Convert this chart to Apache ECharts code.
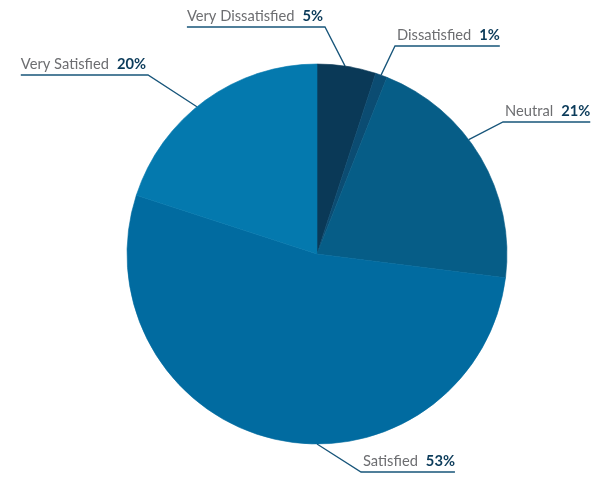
<!DOCTYPE html>
<html><head><meta charset="utf-8">
<script src="https://cdn.jsdelivr.net/npm/echarts@6/dist/echarts.min.js"></script>
<style>html,body{margin:0;padding:0;background:#fff}#c{width:611px;height:489px}</style>
</head><body><div id="c"></div>
<script>
const categories = ['Very Dissatisfied', 'Dissatisfied', 'Neutral', 'Satisfied', 'Very Satisfied'];
const values = [5, 1, 21, 53, 20];
const colors = ['#0a3957', '#0b4c72', '#065d87', '#016ba0', '#0479ae'];

// label layout: elbow of the leader line, which side text runs, and angle where leader meets the pie
const labelSpec = [
  { elbow: [325, 27], side: 'left', angle: 8.5 },
  { elbow: [395, 46], side: 'right', angle: 19.7 },
  { elbow: [503, 122], side: 'right', angle: 53 },
  { elbow: [361, 472], side: 'right', angle: 180 },
  { elbow: [148, 75], side: 'left', angle: 320.8 }
];
const CX = 317, CY = 254, R = 190;

const chart = echarts.init(document.getElementById('c'), null, { renderer: 'canvas' });
chart.setOption({
  animation: false,
  series: [{
    type: 'pie',
    center: [CX, CY],
    radius: R,
    startAngle: 90,
    clockwise: true,
    avoidLabelOverlap: false,
    data: categories.map((n, i) => ({ name: n, value: values[i], itemStyle: { color: colors[i], borderColor: colors[i], borderWidth: 0.6 } })),
    label: {
      show: true,
      position: 'outside',
      formatter: p => '{n|' + p.name + '}{v|' + p.value + '%}',
      rich: {
        n: { fontFamily: 'Lato', fontSize: 14.7, color: '#6d6e71', lineHeight: 16 },
        v: { fontFamily: 'Lato', fontSize: 14.7, fontWeight: 'bold', color: '#0b3b5a', lineHeight: 16, padding: [0, 0, 0, 8] }
      }
    },
    labelLine: { show: true, lineStyle: { color: '#17557a', width: 1.3 } },
    labelLayout: function (params) {
      const s = labelSpec[params.dataIndex];
      const w = params.labelRect.width;
      const a = s.angle * Math.PI / 180;
      const edge = [CX + R * Math.sin(a), CY - R * Math.cos(a)];
      const ex = s.elbow[0], ey = s.elbow[1];
      let x, end;
      if (s.side === 'left') { x = ex - 2; end = ex - w - 2; }
      else { x = ex + 2; end = ex + w + 2; }
      return {
        x: x, y: ey - 3,
        align: s.side === 'left' ? 'right' : 'left',
        verticalAlign: 'bottom',
        labelLinePoints: [edge, [ex, ey], [end, ey]]
      };
    }
  }]
});
</script></body></html>
